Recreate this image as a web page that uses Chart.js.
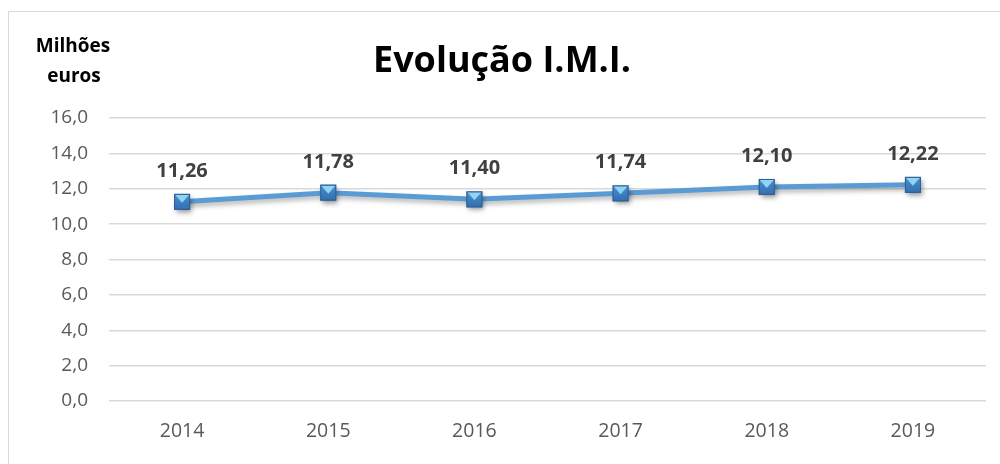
<!DOCTYPE html>
<html>
<head>
<meta charset="utf-8">
<script src="https://cdn.jsdelivr.net/npm/chart.js@4"></script>
<style>
html,body{margin:0;padding:0;background:#fff;}
#wrap{position:relative;width:1000px;height:464px;}
</style>
</head>
<body>
<div id="wrap"><canvas id="c" width="1000" height="464"></canvas></div>
<script>
const categories = ["2014","2015","2016","2017","2018","2019"];
const imiValues = [11.26, 11.78, 11.40, 11.74, 12.10, 12.22];
const yTicks = [0,2,4,6,8,10,12,14,16];
const chartTitle = "Evolução I.M.I.";
const unitLabel = ["Milhões","euros"];

const fmt = v => v.toFixed(2).replace('.', ',');
const fmtTick = v => Number(v).toFixed(1).replace('.', ',');

const decor = {
  id: 'decor',
  beforeDraw(chart) {
    const ctx = chart.ctx;
    ctx.save();
    ctx.fillStyle = '#fff';
    ctx.fillRect(0,0,chart.width,chart.height);
    ctx.strokeStyle = '#D9D9D9';
    ctx.lineWidth = 1;
    ctx.beginPath();
    ctx.moveTo(8.5, 470);
    ctx.lineTo(8.5, 11.5);
    ctx.lineTo(1000, 11.5);
    ctx.stroke();
    ctx.fillStyle = '#000';
    ctx.textAlign = 'center';
    ctx.textBaseline = 'alphabetic';
    ctx.font = 'bold 36px "Open Sans"';
    ctx.fillText(chartTitle, 502, 72);
    ctx.font = 'bold 19px "Open Sans"';
    ctx.fillText(unitLabel[0], 73, 52);
    ctx.fillText(unitLabel[1], 74, 82);
    ctx.restore();
  },
  beforeDatasetsDraw(chart) {
    const ctx = chart.ctx;
    ctx.save();
    ctx.shadowColor = 'rgba(0,0,0,0.3)';
    ctx.shadowBlur = 5;
    ctx.shadowOffsetX = 2;
    ctx.shadowOffsetY = 3;
  },
  afterDatasetsDraw(chart) {
    const ctx = chart.ctx;
    ctx.restore();
    const meta = chart.getDatasetMeta(0);
    ctx.save();
    meta.data.forEach((pt, i) => {
      const x = pt.x, y = pt.y, h = 8;
      ctx.save();
      ctx.shadowColor = 'rgba(0,0,0,0.4)';
      ctx.shadowBlur = 5;
      ctx.shadowOffsetX = 2;
      ctx.shadowOffsetY = 3;
      const g = ctx.createLinearGradient(x, y-h, x, y+h);
      g.addColorStop(0, '#4F8FCF');
      g.addColorStop(1, '#2F6FAF');
      ctx.fillStyle = g;
      ctx.fillRect(x-h, y-h, 2*h, 2*h);
      ctx.restore();
      ctx.fillStyle = '#8FD3F5';
      ctx.beginPath();
      ctx.moveTo(x-h+1, y-h+1);
      ctx.lineTo(x+h-1, y-h+1);
      ctx.lineTo(x, y+1);
      ctx.closePath();
      ctx.fill();
      ctx.strokeStyle = '#2E5F91';
      ctx.lineWidth = 1;
      ctx.strokeRect(x-h+0.5, y-h+0.5, 2*h-1, 2*h-1);
      ctx.fillStyle = '#404040';
      ctx.font = 'bold 20px "Open Sans"';
      ctx.textAlign = 'center';
      ctx.textBaseline = 'alphabetic';
      ctx.fillText(fmt(imiValues[i]), x, y - 25);
    });
    ctx.restore();
  }
};

new Chart(document.getElementById('c'), {
  type: 'line',
  data: {
    labels: categories,
    datasets: [{
      data: imiValues,
      borderColor: '#5B9BD5',
      borderWidth: 5,
      pointRadius: 0,
      tension: 0,
      fill: false
    }]
  },
  options: {
    responsive: false,
    animation: false,
    events: [],
    layout: { padding: { left: 31, right: 14, top: 118, bottom: 0 } },
    plugins: { legend: { display: false }, tooltip: { enabled: false }, title: { display: false } },
    scales: {
      x: {
        offset: true,
        grid: { display: false, drawTicks: false },
        border: { display: false },
        afterFit(axis) { axis.height = 63; },
        ticks: { color: '#595959', font: { family: 'Open Sans', size: 19.5 }, padding: 19 }
      },
      y: {
        min: 0, max: 16,
        afterBuildTicks(axis) { axis.ticks = yTicks.map(v => ({ value: v })); },
        afterFit(axis) { axis.width = 78; },
        grid: { color: '#D9D9D9', lineWidth: 1.5, drawTicks: false },
        border: { display: false },
        ticks: { color: '#595959', font: { family: 'Open Sans', size: 19 }, padding: 21, callback: v => fmtTick(v) }
      }
    }
  },
  plugins: [decor]
});
</script>
</body>
</html>
